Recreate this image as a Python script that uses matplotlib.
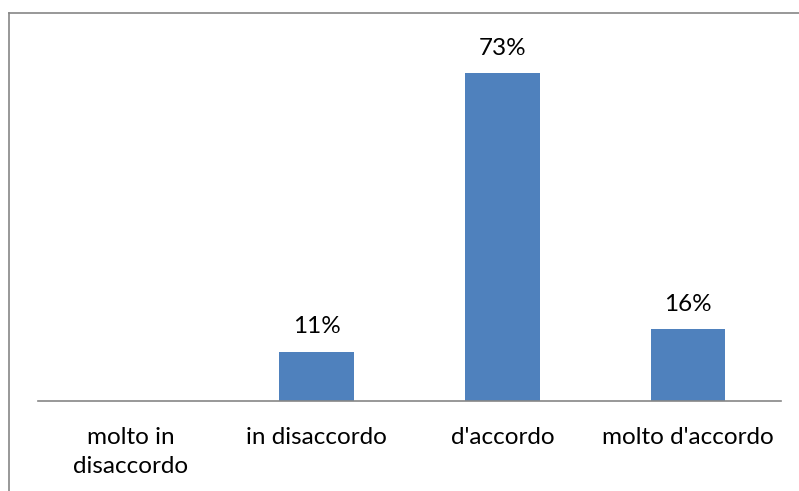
import matplotlib
matplotlib.use("Agg")
import matplotlib.pyplot as plt
from matplotlib.lines import Line2D

categories = ["molto in\ndisaccordo", "in disaccordo", "d'accordo", "molto d'accordo"]
values = [0, 11, 73, 16]          # percent
labels = ["", "11%", "73%", "16%"]

plt.rcParams["font.family"] = ["Lato", "DejaVu Sans"]

W, H = 799, 491
fig = plt.figure(figsize=(W / 100, H / 100), dpi=100)

# chart-area border (only left and top edges are visible in the crop)
fig.add_artist(Line2D([8.5 / W, 8.5 / W], [0, 1 - 13 / H], transform=fig.transFigure,
                      color="#868686", lw=1.2))
fig.add_artist(Line2D([8.5 / W, 1], [1 - 13 / H, 1 - 13 / H], transform=fig.transFigure,
                      color="#868686", lw=1.2))

ax = fig.add_axes([38 / W, 1 - 401 / H, (781 - 38) / W, (401 - 28) / H])
x = range(len(categories))
ax.bar(x, values, width=0.4, color="#4F81BD")
ax.set_xlim(-0.5, len(categories) - 0.5)
ax.set_ylim(0, (401 - 28) / 4.49)

for xi, v, lab in zip(x, values, labels):
    if lab:
        ax.annotate(lab, (xi, v), xytext=(0, 18), textcoords="offset points",
                    ha="center", va="center", fontsize=17.5, color="#000000")

for s in ["left", "right", "top"]:
    ax.spines[s].set_visible(False)
ax.spines["bottom"].set_color("#868686")
ax.spines["bottom"].set_linewidth(1.2)
ax.set_yticks([])
ax.set_xticks(list(x))
ax.set_xticklabels(categories, fontsize=17.5, linespacing=1.5)
ax.tick_params(axis="x", length=0, pad=18.5)

fig.savefig("out.png", dpi=100)
